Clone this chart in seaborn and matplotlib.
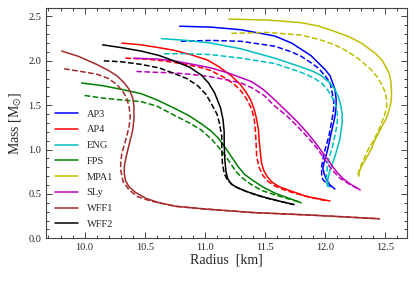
import matplotlib
matplotlib.use("Agg")
import matplotlib.pyplot as plt
import seaborn as sns
import pandas as pd
from matplotlib.ticker import MultipleLocator

# Mass-radius curves, solid (r_x, m_x) and dashed (r_x_d, m_x_d)
r_ap3 = [10.79, 11.05, 11.30, 11.58, 11.72, 11.80, 11.88, 11.94, 12.00, 12.04, 12.08, 12.09, 12.09, 12.08, 12.05, 12.02, 11.99, 11.98, 11.99, 12.01, 12.04, 12.08]
m_ap3 = [2.39, 2.38, 2.35, 2.28, 2.20, 2.13, 2.06, 1.98, 1.90, 1.83, 1.68, 1.57, 1.48, 1.37, 1.19, 1.00, 0.85, 0.79, 0.73, 0.66, 0.60, 0.555]
r_ap3_d = [10.80, 11.05, 11.30, 11.58, 11.72, 11.80, 11.88, 11.94, 12.00, 12.04, 12.07, 12.07, 12.06, 12.03, 11.99, 11.97, 11.97, 11.98, 12.01, 12.05]
m_ap3_d = [2.22, 2.23, 2.22, 2.165, 2.10, 2.05, 1.98, 1.92, 1.83, 1.75, 1.56, 1.46, 1.37, 1.15, 0.96, 0.81, 0.70, 0.66, 0.62, 0.58]

r_ap4 = [10.31, 10.47, 10.61, 10.74, 10.88, 11.02, 11.12, 11.22, 11.29, 11.34, 11.38, 11.41, 11.43, 11.445, 11.45, 11.46, 11.47, 11.49, 11.52, 11.56, 11.62, 11.72, 11.85, 12.04]
m_ap4 = [2.20, 2.18, 2.15, 2.12, 2.07, 2.01, 1.93, 1.83, 1.74, 1.65, 1.56, 1.45, 1.34, 1.22, 1.11, 0.98, 0.85, 0.76, 0.69, 0.63, 0.58, 0.53, 0.47, 0.42]
r_ap4_d = [10.34, 10.50, 10.65, 10.80, 10.95, 11.05, 11.15, 11.24, 11.30, 11.35, 11.39, 11.41, 11.42, 11.425, 11.43, 11.45, 11.48, 11.52, 11.58, 11.65, 11.74, 11.88, 12.02]
m_ap4_d = [2.03, 2.02, 2.00, 1.97, 1.93, 1.89, 1.82, 1.74, 1.66, 1.56, 1.45, 1.34, 1.20, 1.07, 0.92, 0.80, 0.71, 0.645, 0.59, 0.55, 0.51, 0.46, 0.42]

r_eng = [10.64, 10.85, 11.05, 11.30, 11.58, 11.80, 11.90, 11.97, 12.03, 12.08, 12.11, 12.13, 12.14, 12.14, 12.12, 12.08, 12.04, 12.02, 12.02, 12.03]
m_eng = [2.25, 2.23, 2.20, 2.135, 2.03, 1.93, 1.88, 1.83, 1.76, 1.68, 1.59, 1.49, 1.40, 1.30, 1.11, 0.92, 0.77, 0.66, 0.62, 0.58]
r_eng_d = [10.66, 10.85, 11.05, 11.30, 11.58, 11.80, 11.90, 11.97, 12.02, 12.06, 12.09, 12.10, 12.10, 12.09, 12.06, 12.02, 12.01, 12.01, 12.02]
m_eng_d = [2.08, 2.08, 2.07, 2.03, 1.97, 1.87, 1.81, 1.75, 1.67, 1.58, 1.49, 1.41, 1.32, 1.22, 1.035, 0.85, 0.70, 0.63, 0.58]

r_fps = [9.975, 10.15, 10.30, 10.47, 10.60, 10.74, 10.87, 10.97, 11.05, 11.11, 11.16, 11.20, 11.24, 11.28, 11.33, 11.40, 11.48, 11.58, 11.68, 11.80]
m_fps = [1.75, 1.72, 1.68, 1.63, 1.56, 1.47, 1.38, 1.29, 1.21, 1.13, 1.04, 0.96, 0.88, 0.80, 0.72, 0.65, 0.58, 0.51, 0.46, 0.40]
r_fps_d = [10.0, 10.15, 10.30, 10.47, 10.60, 10.74, 10.87, 10.97, 11.06, 11.13, 11.18, 11.22, 11.26, 11.31, 11.38, 11.47, 11.58, 11.68, 11.78]
m_fps_d = [1.61, 1.58, 1.56, 1.54, 1.49, 1.39, 1.30, 1.22, 1.11, 1.00, 0.91, 0.83, 0.75, 0.68, 0.61, 0.54, 0.49, 0.45, 0.41]

r_mpa1 = [11.20, 11.52, 11.80, 11.95, 12.08, 12.20, 12.30, 12.36, 12.42, 12.47, 12.50, 12.53, 12.545, 12.55, 12.55, 12.54, 12.52, 12.50, 12.47, 12.44, 12.41, 12.38, 12.34, 12.30, 12.28, 12.28]
m_mpa1 = [2.47, 2.46, 2.43, 2.39, 2.33, 2.27, 2.20, 2.14, 2.08, 2.01, 1.94, 1.86, 1.77, 1.68, 1.59, 1.49, 1.40, 1.33, 1.26, 1.18, 1.10, 1.00, 0.90, 0.81, 0.74, 0.70]
r_mpa1_d = [11.22, 11.52, 11.80, 11.95, 12.08, 12.18, 12.27, 12.33, 12.38, 12.43, 12.47, 12.50, 12.51, 12.51, 12.49, 12.46, 12.43, 12.40, 12.36, 12.33, 12.30, 12.28, 12.27]
m_mpa1_d = [2.31, 2.32, 2.29, 2.24, 2.18, 2.11, 2.03, 1.96, 1.90, 1.82, 1.73, 1.64, 1.55, 1.47, 1.38, 1.27, 1.18, 1.10, 1.01, 0.92, 0.83, 0.76, 0.71]

r_sly = [10.41, 10.60, 10.74, 10.90, 11.05, 11.20, 11.30, 11.38, 11.45, 11.50, 11.58, 11.68, 11.77, 11.85, 11.91, 11.97, 12.02, 12.06, 12.10, 12.15, 12.21, 12.29]
m_sly = [2.03, 2.02, 2.00, 1.96, 1.92, 1.86, 1.81, 1.77, 1.71, 1.66, 1.56, 1.43, 1.31, 1.19, 1.09, 0.98, 0.89, 0.81, 0.74, 0.67, 0.61, 0.545]
r_sly_d = [10.43, 10.60, 10.74, 10.90, 11.05, 11.20, 11.30, 11.40, 11.50, 11.58, 11.68, 11.77, 11.86, 11.94, 12.00, 12.05, 12.12, 12.20, 12.27]
m_sly_d = [1.88, 1.87, 1.865, 1.845, 1.82, 1.78, 1.75, 1.69, 1.60, 1.49, 1.38, 1.26, 1.13, 1.00, 0.88, 0.78, 0.68, 0.61, 0.56]

r_wff1 = [9.81, 9.95, 10.10, 10.20, 10.27, 10.33, 10.37, 10.40, 10.41, 10.41, 10.40, 10.38, 10.36, 10.34, 10.33, 10.33, 10.34, 10.37, 10.42, 10.51, 10.62, 10.76, 11.00, 11.40, 11.90, 12.45]
m_wff1 = [2.11, 2.05, 1.96, 1.89, 1.83, 1.75, 1.68, 1.58, 1.49, 1.34, 1.22, 1.11, 1.00, 0.885, 0.80, 0.73, 0.65, 0.58, 0.52, 0.45, 0.40, 0.36, 0.33, 0.29, 0.26, 0.22]
r_wff1_d = [9.83, 9.97, 10.10, 10.20, 10.27, 10.32, 10.35, 10.37, 10.38, 10.37, 10.35, 10.33, 10.31, 10.30, 10.30, 10.32, 10.37, 10.44, 10.55, 10.76, 11.00, 11.40, 11.90, 12.45]
m_wff1_d = [1.91, 1.88, 1.85, 1.80, 1.73, 1.65, 1.58, 1.48, 1.37, 1.26, 1.15, 1.05, 0.96, 0.85, 0.77, 0.64, 0.545, 0.47, 0.42, 0.36, 0.33, 0.29, 0.26, 0.22]

r_wff2 = [10.15, 10.30, 10.47, 10.62, 10.74, 10.87, 10.97, 11.03, 11.08, 11.13, 11.15, 11.16, 11.16, 11.165, 11.175, 11.19, 11.22, 11.27, 11.35, 11.44, 11.53, 11.63, 11.74]
m_wff2 = [2.18, 2.15, 2.11, 2.06, 2.00, 1.93, 1.84, 1.75, 1.64, 1.47, 1.34, 1.20, 1.05, 0.89, 0.75, 0.67, 0.61, 0.57, 0.525, 0.485, 0.45, 0.415, 0.38]
r_wff2_d = [10.16, 10.30, 10.47, 10.62, 10.74, 10.85, 10.94, 11.01, 11.06, 11.10, 11.12, 11.14, 11.14, 11.145, 11.16, 11.19, 11.24, 11.32, 11.42, 11.52, 11.63, 11.74]
m_wff2_d = [2.00, 1.99, 1.96, 1.92, 1.86, 1.80, 1.72, 1.62, 1.50, 1.40, 1.30, 1.15, 1.00, 0.85, 0.73, 0.65, 0.59, 0.54, 0.49, 0.45, 0.415, 0.38]

names = ["AP3", "AP4", "ENG", "FPS", "MPA1", "SLy", "WFF1", "WFF2"]
colors = ["b", "r", "c", "g", "y", "m", "brown", "k"]
solid = [(r_ap3, m_ap3), (r_ap4, m_ap4), (r_eng, m_eng), (r_fps, m_fps),
         (r_mpa1, m_mpa1), (r_sly, m_sly), (r_wff1, m_wff1), (r_wff2, m_wff2)]
dashed = [(r_ap3_d, m_ap3_d), (r_ap4_d, m_ap4_d), (r_eng_d, m_eng_d), (r_fps_d, m_fps_d),
          (r_mpa1_d, m_mpa1_d), (r_sly_d, m_sly_d), (r_wff1_d, m_wff1_d), (r_wff2_d, m_wff2_d)]

sns.set_style("ticks")
plt.rcParams['font.family'] = ['Liberation Serif', 'DejaVu Serif']
plt.rcParams['mathtext.fontset'] = 'stix'

fig = plt.figure(figsize=(4.15, 2.81), dpi=100)
ax = fig.add_axes([0.111, 0.152, 0.870, 0.821])

for name, c, (r, m), (rd, md) in zip(names, colors, solid, dashed):
    df = pd.DataFrame({"R": r, "M": m})
    sns.lineplot(data=df, x="R", y="M", sort=False, estimator=None, color=c,
                 lw=1.1, label=name, ax=ax, solid_joinstyle="round")
    dfd = pd.DataFrame({"R": rd, "M": md})
    sns.lineplot(data=dfd, x="R", y="M", sort=False, estimator=None, color=c,
                 lw=1.1, ls="--", ax=ax, dash_joinstyle="round")

ax.set_xlim(9.68, 12.68)
ax.set_ylim(0, 2.6)
ax.xaxis.set_major_locator(MultipleLocator(0.5))
ax.xaxis.set_minor_locator(MultipleLocator(0.1))
ax.yaxis.set_major_locator(MultipleLocator(0.5))
ax.yaxis.set_minor_locator(MultipleLocator(0.1))
ax.tick_params(which="both", direction="in", top=True, right=True, labelsize=7.5, width=0.6)
ax.tick_params(which="major", length=4)
ax.tick_params(which="minor", length=2)
for s in ax.spines.values():
    s.set_linewidth(0.8)
    s.set_color("#444444")

ax.set_xlabel("Radius  [km]", fontsize=10, labelpad=1)
ax.set_ylabel(r"Mass [M$_{\odot}$]", fontsize=10, labelpad=3)

ax.legend(loc="lower left", bbox_to_anchor=(0.0, 0.0), frameon=False, fontsize=7.5,
          handlelength=2.2, labelspacing=0.62, handletextpad=0.8)

fig.savefig("out.png", dpi=100)
